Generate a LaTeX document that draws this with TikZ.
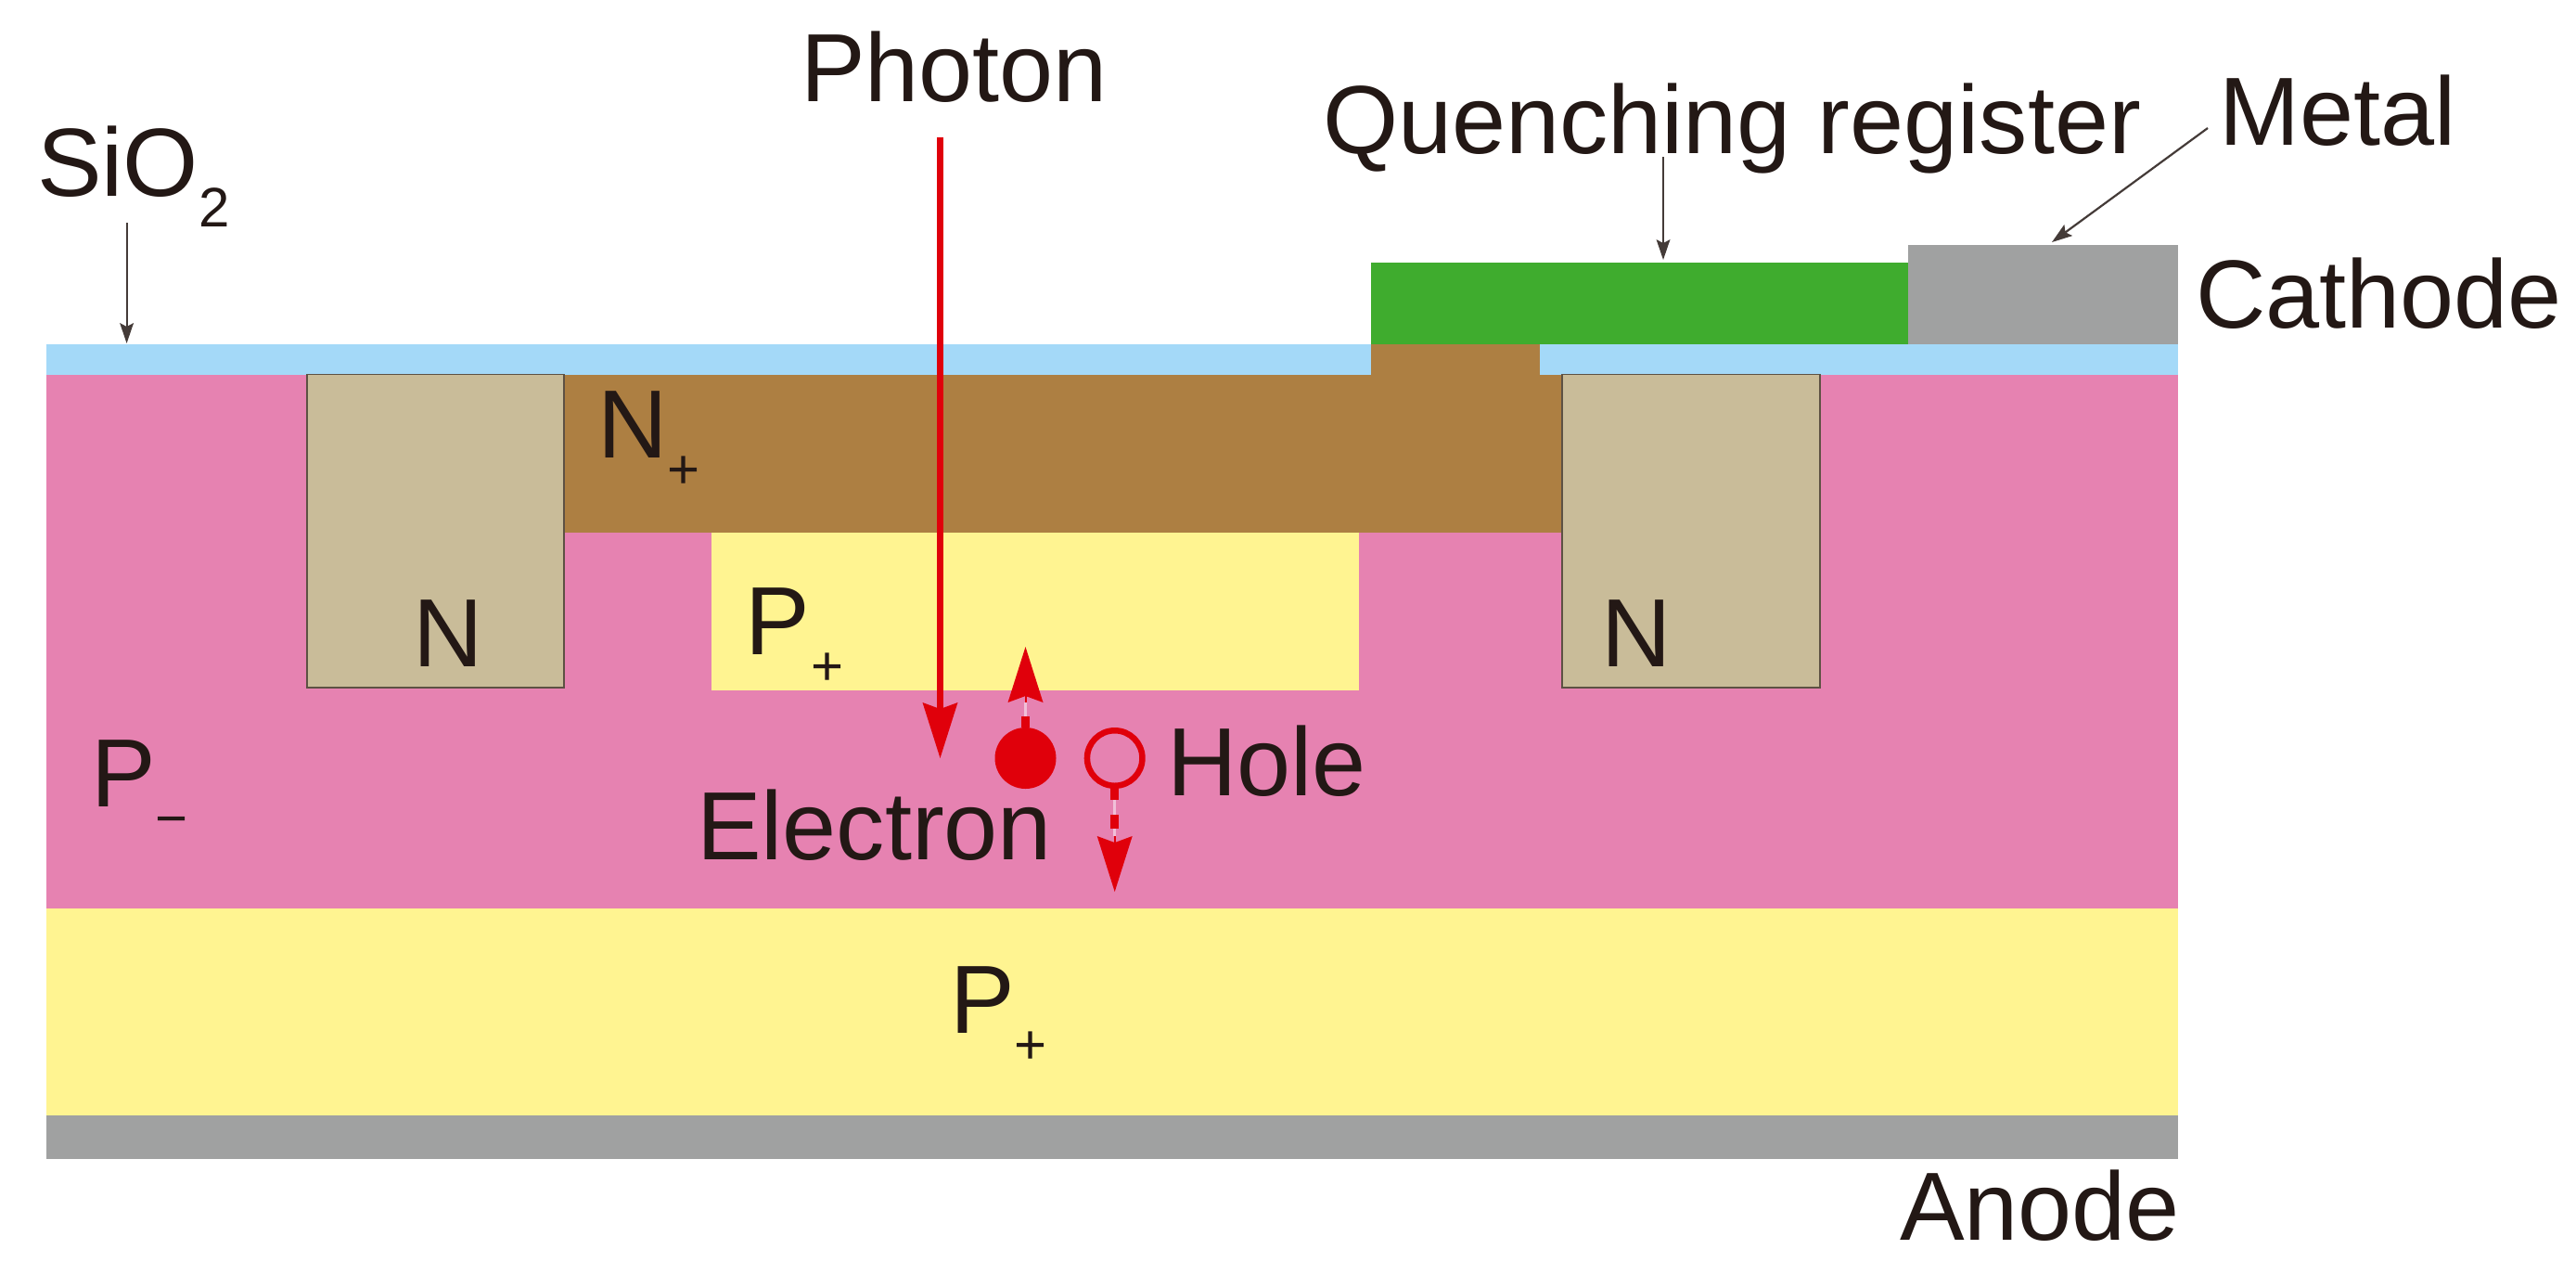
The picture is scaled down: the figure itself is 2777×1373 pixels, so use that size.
\documentclass[tikz,border=0pt]{standalone}
\usepackage{fontspec}
\setmainfont{Liberation Sans}
\usetikzlibrary{arrows.meta}
\definecolor{ink}{HTML}{231815}
\definecolor{pinkreg}{HTML}{E682B1}
\definecolor{yellowreg}{HTML}{FFF491}
\definecolor{brownreg}{HTML}{AD7F42}
\definecolor{bluereg}{HTML}{A4D9F8}
\definecolor{greenreg}{HTML}{3FAC2E}
\definecolor{grayreg}{HTML}{A0A1A1}
\definecolor{tanreg}{HTML}{C9BC99}
\definecolor{redmark}{HTML}{E0000B}
\definecolor{paledash}{HTML}{F0C0D8}
\newcommand{\subs}[1]{\raisebox{-16.5pt}{\fontsize{30}{36}\selectfont #1}}
\tikzset{
  lbl/.style={anchor=base west,inner sep=0pt,outer sep=0pt,text=ink,font=\fontsize{52.2}{60}\selectfont},
  region/.style={fill=#1,draw=none},
  nbox/.style={fill=tanreg,draw=ink!65!tanreg,line width=0.8pt},
  thinarrow/.style={draw=ink!85,line width=1.1pt,-{Stealth[length=11pt,width=7.5pt,inset=2pt,line width=0pt]}},
  redarrow/.style={draw=redmark,line width=3.75pt,-{Stealth[length=30pt,width=19pt,inset=3.5pt,line width=0pt,fill=redmark]}},
  redstem/.style={draw=redmark,line width=4.5pt},
  paleline/.style={draw=paledash,line width=1.5pt},
  redtip/.style={draw=redmark,line width=1pt,-{Stealth[length=30pt,width=19pt,inset=3.5pt,line width=0pt,fill=redmark]}},
  carrier/.style={circle,inner sep=0pt,outer sep=0pt}
}
\begin{document}
\begin{tikzpicture}[x=0.5pt,y=-0.5pt]
\useasboundingbox (0,0) rectangle (2777,1373);
% layers
\fill[region=pinkreg]   (50,404) rectangle (2348,979);
\fill[region=yellowreg] (50,979) rectangle (2348,1202);
\fill[region=grayreg]   (50,1202) rectangle (2348,1249);
\fill[region=bluereg]   (50,370.5) rectangle (1478,404);
\fill[region=bluereg]   (1660,370.5) rectangle (2348,404);
\fill[region=brownreg]  (608,404) rectangle (1684,574);
\fill[region=brownreg]  (1478,370.5) rectangle (1660,404);
\fill[region=yellowreg] (767,574) rectangle (1465,743.5);
\fill[region=greenreg]  (1478,282.5) rectangle (2057,370.5);
\fill[region=grayreg]   (2057,263.5) rectangle (2348,370.5);
\draw[nbox] (331,403.5) rectangle (608,741);
\draw[nbox] (1684,403.5) rectangle (1962,741);
% labels
\node[lbl] (photon) at (863,109) {Photon};
\node[lbl] (sio) at (40,211) {SiO\subs{2}};
\node[lbl] (quench) at (1426,165) {Quenching register};
\node[lbl] (metal) at (2392,156) {Metal};
\node[lbl] (cathode) at (2367,353) {Cathode};
\node[lbl] (anode) at (2048,1336) {Anode};
\node[lbl] (nplus) at (644,493) {N\subs{+}};
\node[lbl] (nleft) at (445,718) {N};
\node[lbl] (nright) at (1726,718) {N};
\node[lbl] (pplus) at (803,705) {P\subs{\kern1pt+}};
\node[lbl] (pminus) at (98,869) {P\subs{−}};
\node[lbl] (pplusb) at (1024,1113) {P\subs{+}};
\node[lbl] (electronlbl) at (751,926.5) {Electron};
\node[lbl] (holelbl) at (1258,857) {Hole};
% pointers
\coordinate (siofrom) at (136.6,240);
\coordinate (sioto) at (136.6,370);
\coordinate (qfrom) at (1793,169);
\coordinate (qto) at (1793,280);
\coordinate (mfrom) at (2380,138);
\coordinate (mto) at (2212,261);
\draw[thinarrow] (siofrom) -- (sioto);
\draw[thinarrow] (qfrom) -- (qto);
\draw[thinarrow] (mfrom) -- (mto);
% photon
\coordinate (phfrom) at (1013.5,148);
\coordinate (phto) at (1013.5,817);
\draw[redarrow] (phfrom) -- (phto);
% electron
\node[carrier,fill=redmark,minimum size=33pt] (electron) at (1105.5,817) {};
\coordinate (etip) at (1105.5,697);
\coordinate (etop) at (1105.5,772);
\coordinate (eback) at (1105.5,757);
\draw[paleline] (etop) -- (eback);
\draw[redstem] (electron.north) -- (etop);
\draw[redtip] (eback) -- (etip);
% hole
\node[carrier,draw=redmark,line width=3.25pt,minimum size=29.75pt] (hole) at (1201.7,817) {};
\coordinate (hs1) at (1201.7,862);
\coordinate (hd1) at (1201.7,878);
\coordinate (hd2) at (1201.7,893);
\coordinate (hback) at (1201.7,901);
\coordinate (htip) at (1201.7,961);
\draw[paleline] (hs1) -- (hback);
\draw[redstem] (hole.south) -- (hs1);
\draw[redstem] (hd1) -- (hd2);
\draw[redtip] (hback) -- (htip);
\end{tikzpicture}
\end{document}
